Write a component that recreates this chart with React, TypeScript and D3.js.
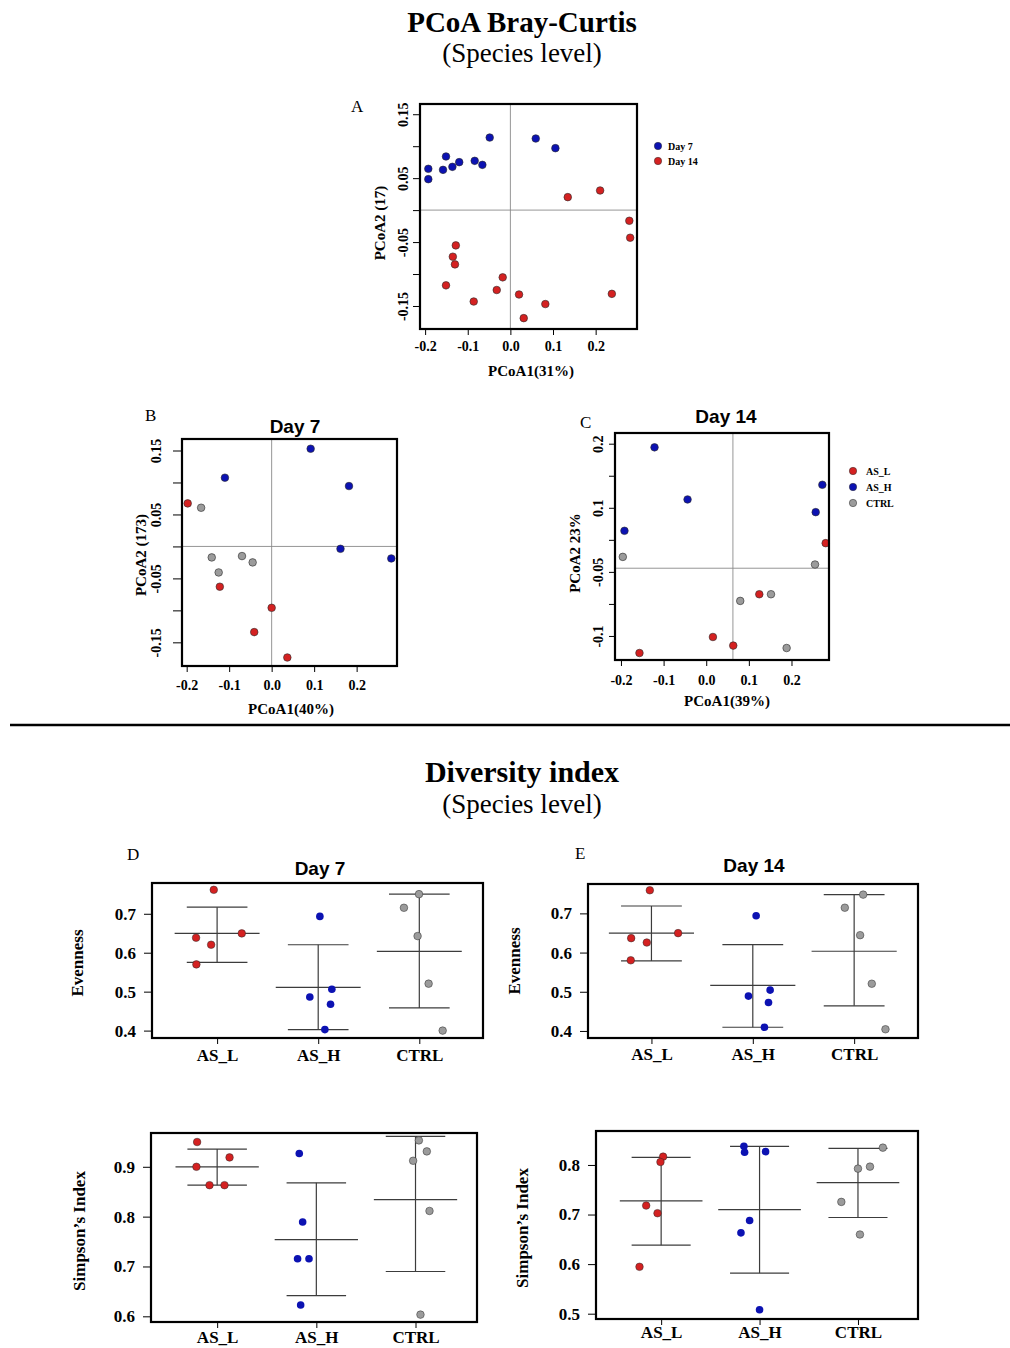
import React, { useRef, useEffect } from "react";
import * as d3 from "d3";

const RED = "#d42121";
const BLUE = "#0c12b2";
const GRAY = "#9b9b9b";
const SERIF = "'Liberation Serif', 'Times New Roman', serif";
const SANS = "'Liberation Sans', Arial, sans-serif";

// ---- PCoA A : all samples by day ----
const pcoaDay7: [number, number][] = [
  [-0.1925, 0.0646], [-0.1925, 0.0484], [-0.151, 0.0839], [-0.158, 0.063],
  [-0.136, 0.0677], [-0.12, 0.075], [-0.0837, 0.0771], [-0.0657, 0.0708],
  [-0.0485, 0.1135], [0.0595, 0.112], [0.1056, 0.0969],
];
const pcoaDay14: [number, number][] = [
  [0.1346, 0.0203], [0.2105, 0.0307], [0.279, -0.0167], [0.281, -0.0432],
  [-0.128, -0.0552], [-0.135, -0.0729], [-0.13, -0.0849], [-0.151, -0.1177],
  [-0.018, -0.1052], [-0.032, -0.125], [-0.086, -0.143], [0.0203, -0.132],
  [0.082, -0.147], [0.0313, -0.169], [0.238, -0.131],
];

// ---- PCoA B : day 7 by group ----
const day7ASL: [number, number][] = [[-0.1976, 0.0673], [-0.122, -0.063], [0.0, -0.096], [-0.041, -0.134], [0.0369, -0.1737]];
const day7ASH: [number, number][] = [[0.0918, 0.1528], [-0.11, 0.1075], [0.182, 0.0944], [0.162, -0.0037], [0.2816, -0.0188]];
const day7CTRL: [number, number][] = [[-0.166, 0.0605], [-0.141, -0.0172], [-0.0698, -0.0151], [-0.0447, -0.025], [-0.1247, -0.0407]];

// ---- PCoA C : day 14 by group ----
const day14ASL: [number, number][] = [[0.2802, -0.0052], [0.1245, -0.0849], [0.0157, -0.1516], [0.0634, -0.165], [-0.1566, -0.1766]];
const day14ASH: [number, number][] = [[-0.1213, 0.1443], [-0.0438, 0.063], [-0.1918, 0.0141], [0.2724, 0.0859], [0.2568, 0.0432]];
const day14CTRL: [number, number][] = [[-0.1957, -0.0266], [0.2552, -0.0385], [0.1519, -0.0849], [0.0798, -0.0953], [0.1886, -0.1688]];

const pcoaTicksX = [-0.2, -0.1, 0, 0.1, 0.2];
const pcoaLabelsX = ["-0.2", "-0.1", "0.0", "0.1", "0.2"];
const pcoaTicksY = [0.15, 0.1, 0.05, 0, -0.05, -0.1, -0.15];
const pcoaLabelsY = ["0.15", "", "0.05", "", "-0.05", "", "-0.15"];
const pcoaLabelsYC = ["0.2", "", "0.1", "", "-0.05", "", "-0.1"];

// ---- Diversity ----
const groups = ["AS_L", "AS_H", "CTRL"];

const evenD7 = [
  [0.7615, 0.6385, 0.6205, 0.6496, 0.57],
  [0.6932, 0.4863, 0.506, 0.4675, 0.4026],
  [0.7504, 0.7154, 0.6427, 0.5205, 0.4],
];
const evenD7Jitter = [
  [-0.033, -0.208, -0.059, 0.244, -0.205],
  [0.0165, -0.083, 0.135, 0.122, 0.066],
  [-0.003, -0.152, -0.017, 0.092, 0.231],
];
const evenD7Stats = [[0.6496, 0.717, 0.575], [0.5111, 0.6205, 0.4026], [0.6034, 0.7504, 0.4581]];

const evenD14 = [
  [0.759, 0.6368, 0.6256, 0.6496, 0.5803],
  [0.694, 0.4889, 0.5043, 0.4726, 0.4094],
  [0.7479, 0.7145, 0.6444, 0.5205, 0.4043],
];
const evenD14Jitter = [
  [-0.016, -0.2, -0.046, 0.263, -0.204],
  [0.033, -0.043, 0.171, 0.155, 0.115],
  [0.089, -0.092, 0.059, 0.174, 0.309],
];
const evenD14Stats = [[0.6496, 0.7188, 0.5786], [0.5162, 0.6205, 0.4094], [0.6034, 0.7479, 0.4641]];

const simpD7 = [
  [0.9497, 0.9, 0.9188, 0.8631, 0.8631],
  [0.9268, 0.7893, 0.7154, 0.7154, 0.6228],
  [0.953, 0.9309, 0.9121, 0.8114, 0.6034],
];
const simpD7Jitter = [
  [-0.202, -0.209, 0.125, -0.077, 0.074],
  [-0.172, -0.138, -0.189, -0.074, -0.158],
  [0.034, 0.114, -0.024, 0.141, 0.05],
];
const simpD7Stats = [[0.9, 0.9356, 0.8631], [0.7537, 0.8678, 0.6416], [0.8342, 0.9611, 0.6899]];

const simpD14 = [
  [0.8168, 0.806, 0.7181, 0.7027, 0.5946],
  [0.8376, 0.8255, 0.8268, 0.6879, 0.6631, 0.508],
  [0.8349, 0.7926, 0.7966, 0.7255, 0.6597],
];
const simpD14Jitter = [
  [0.02, -0.007, -0.152, -0.037, -0.22],
  [-0.159, -0.152, 0.061, -0.101, -0.189, 0],
  [0.253, 0, 0.122, -0.169, 0.02],
];
const simpD14Stats = [[0.7275, 0.8154, 0.6383], [0.7101, 0.8376, 0.5819], [0.7644, 0.8336, 0.694]];

const groupColors = [RED, BLUE, GRAY];

type Sel = d3.Selection<SVGGElement, unknown, null, undefined>;

function text(g: Sel, x: number, y: number, s: string, size: number, opts: any = {}) {
  const t = g
    .append("text")
    .attr("x", x)
    .attr("y", y)
    .attr("font-family", opts.family || SERIF)
    .attr("font-size", size)
    .attr("font-weight", opts.weight || "bold")
    .attr("text-anchor", opts.anchor || "middle")
    .attr("fill", "#000")
    .text(s);
  if (opts.rotate) t.attr("transform", `rotate(-90,${x},${y})`);
  return t;
}

function drawPcoa(root: Sel, p: any) {
  const [bx0, by0, bx1, by1] = p.box;
  const x = d3.scaleLinear().domain(p.xDom).range([bx0, bx1]);
  const y = d3.scaleLinear().domain(p.yDom).range([by1, by0]);
  const g = root.append("g");

  // reference lines
  g.append("line").attr("x1", x(p.ref[0])).attr("x2", x(p.ref[0])).attr("y1", by0).attr("y2", by1)
    .attr("stroke", "#8a8a8a").attr("stroke-width", 0.9);
  g.append("line").attr("x1", bx0).attr("x2", bx1).attr("y1", y(p.ref[1])).attr("y2", y(p.ref[1]))
    .attr("stroke", "#8a8a8a").attr("stroke-width", 0.9);

  p.series.forEach((s: any) => {
    g.append("g")
      .selectAll("circle")
      .data(s.pts)
      .join("circle")
      .attr("cx", (d: any) => x(d[0]))
      .attr("cy", (d: any) => y(d[1]))
      .attr("r", 3.8)
      .attr("fill", s.color)
      .attr("stroke", "#2a2a2a")
      .attr("stroke-width", 0.6);
  });

  g.append("rect").attr("x", bx0).attr("y", by0).attr("width", bx1 - bx0).attr("height", by1 - by0)
    .attr("fill", "none").attr("stroke", "#000").attr("stroke-width", 2.2);

  // x axis
  const xa = g.append("g").attr("transform", `translate(0,${by1})`)
    .call(d3.axisBottom(x).tickValues(pcoaTicksX).tickSize(6).tickFormat((_d, i) => pcoaLabelsX[i]));
  xa.select(".domain").remove();
  xa.selectAll("line").attr("stroke", "#000");
  xa.attr("font-family", SERIF).attr("font-size", 14).attr("font-weight", "bold");
  xa.selectAll("text").attr("y", p.xLabOff).attr("dy", null).attr("fill", "#000");

  // y axis (rotated labels)
  const ya = g.append("g").attr("transform", `translate(${bx0},0)`)
    .call(d3.axisLeft(y).tickValues(pcoaTicksY).tickSize(p.yTick).tickFormat((_d, i) => p.yLabels[i]));
  ya.select(".domain").remove();
  ya.selectAll("line").attr("stroke", "#000");
  ya.attr("font-family", SERIF).attr("font-size", 14).attr("font-weight", "bold");
  ya.selectAll("text")
    .attr("transform", "rotate(-90)")
    .attr("x", 0)
    .attr("y", -p.yLabOff)
    .attr("dy", null)
    .attr("text-anchor", "middle")
    .attr("fill", "#000");

  text(g, p.xTitle[1], p.xTitle[2], p.xTitle[0], 15);
  text(g, p.yTitle[1], p.yTitle[2], p.yTitle[0], 15, { rotate: true });
  if (p.title) text(g, p.title[1], p.title[2], p.title[0], 19, { family: SANS });
  text(g, p.letter[1], p.letter[2], p.letter[0], 17, { weight: "normal", anchor: "start" });
}

function drawDiversity(root: Sel, p: any) {
  const [bx0, by0, bx1, by1] = p.box;
  const x = d3.scaleLinear().domain(p.xDom).range([bx0, bx1]);
  const y = d3.scaleLinear().domain(p.yDom).range([by1, by0]);
  const g = root.append("g");
  const lc = "#3c3c3c";

  groups.forEach((_name, i) => {
    const c = i + 1;
    const [m, hi, lo] = p.stats[i];
    g.append("line").attr("x1", x(c)).attr("x2", x(c)).attr("y1", y(hi)).attr("y2", y(lo))
      .attr("stroke", lc).attr("stroke-width", 1.2);
    g.append("line").attr("x1", x(c - 0.42)).attr("x2", x(c + 0.42)).attr("y1", y(m)).attr("y2", y(m))
      .attr("stroke", lc).attr("stroke-width", 1.2);
    [hi, lo].forEach((v) =>
      g.append("line").attr("x1", x(c - 0.3)).attr("x2", x(c + 0.3)).attr("y1", y(v)).attr("y2", y(v))
        .attr("stroke", lc).attr("stroke-width", 1.2)
    );
    g.append("g")
      .selectAll("circle")
      .data(p.vals[i] as number[])
      .join("circle")
      .attr("cx", (_d, j) => x(c + p.jitter[i][j]))
      .attr("cy", (d) => y(d))
      .attr("r", 3.8)
      .attr("fill", groupColors[i])
      .attr("stroke", i === 1 ? "none" : "#2a2a2a")
      .attr("stroke-width", 0.5);
  });

  g.append("rect").attr("x", bx0).attr("y", by0).attr("width", bx1 - bx0).attr("height", by1 - by0)
    .attr("fill", "none").attr("stroke", "#000").attr("stroke-width", 2.2);

  const xa = g.append("g").attr("transform", `translate(0,${by1})`)
    .call(d3.axisBottom(x).tickValues([1, 2, 3]).tickSize(6).tickFormat((_d, i) => groups[i]));
  xa.select(".domain").remove();
  xa.selectAll("line").attr("stroke", "#000");
  xa.attr("font-family", SERIF).attr("font-size", 17).attr("font-weight", "bold");
  xa.selectAll("text").attr("y", p.xLabOff).attr("dy", null).attr("fill", "#000");

  const ya = g.append("g").attr("transform", `translate(${bx0},0)`)
    .call(d3.axisLeft(y).tickValues(p.yTicks).tickSize(8).tickPadding(8).tickFormat(d3.format(".1f")));
  ya.select(".domain").remove();
  ya.selectAll("line").attr("stroke", "#000");
  ya.attr("font-family", SERIF).attr("font-size", 17).attr("font-weight", "bold");
  ya.selectAll("text").attr("fill", "#000");

  text(g, p.yTitle[1], p.yTitle[2], p.yTitle[0], 17, { rotate: true });
  if (p.title) text(g, p.title[1], p.title[2], p.title[0], 19, { family: SANS });
  if (p.letter) text(g, p.letter[1], p.letter[2], p.letter[0], 17, { weight: "normal", anchor: "start" });
}

const App = () => {
  const ref = useRef<SVGSVGElement>(null);

  useEffect(() => {
    if (!ref.current) return;
    const svg = d3.select(ref.current);
    svg.selectAll("*").remove();
    const root = svg.append("g") as unknown as Sel;

    root.append("rect").attr("width", 1010).attr("height", 1348).attr("fill", "#fff");

    // headings
    text(root, 522, 32, "PCoA Bray-Curtis", 29);
    text(root, 522, 62, "(Species level)", 27, { weight: "normal" });
    text(root, 522, 782, "Diversity index", 30);
    text(root, 522, 813, "(Species level)", 27, { weight: "normal" });

    root.append("line").attr("x1", 10).attr("x2", 1010).attr("y1", 725).attr("y2", 725)
      .attr("stroke", "#000").attr("stroke-width", 2.5);

    drawPcoa(root, {
      box: [420, 104, 637, 329],
      xDom: [-0.212, 0.297],
      yDom: [-0.186, 0.166],
      ref: [0, 0],
      series: [{ pts: pcoaDay7, color: BLUE }, { pts: pcoaDay14, color: RED }],
      yLabels: pcoaLabelsY,
      yTick: 7,
      yLabOff: 12,
      xLabOff: 22,
      xTitle: ["PCoA1(31%)", 531, 376],
      yTitle: ["PCoA2 (17)", 385, 223],
      letter: ["A", 351, 112],
    });
    // legend A
    const legA = root.append("g");
    [["Day 7", BLUE], ["Day 14", RED]].forEach((d, i) => {
      legA.append("circle").attr("cx", 658).attr("cy", 146 + i * 15).attr("r", 3.7)
        .attr("fill", d[1]).attr("stroke", "#2a2a2a").attr("stroke-width", 0.5);
      text(legA, 668, 146 + i * 15 + 3.5, d[0], 10, { anchor: "start" });
    });

    drawPcoa(root, {
      box: [182, 439, 397, 666],
      xDom: [-0.211, 0.295],
      yDom: [-0.187, 0.168],
      ref: [0, 0],
      series: [{ pts: day7ASL, color: RED }, { pts: day7ASH, color: BLUE }, { pts: day7CTRL, color: GRAY }],
      yLabels: pcoaLabelsY,
      yTick: 9,
      yLabOff: 21,
      xLabOff: 24,
      xTitle: ["PCoA1(40%)", 291, 714],
      yTitle: ["PCoA2 (173)", 146, 555],
      title: ["Day 7", 295, 433],
      letter: ["B", 145, 421],
    });

    drawPcoa(root, {
      box: [615, 433, 829, 660],
      xDom: [-0.214, 0.288],
      yDom: [-0.1875, 0.1667],
      ref: [0.0626, -0.0443],
      series: [{ pts: day14ASL, color: RED }, { pts: day14ASH, color: BLUE }, { pts: day14CTRL, color: GRAY }],
      yLabels: pcoaLabelsYC,
      yTick: 6,
      yLabOff: 12,
      xLabOff: 25,
      xTitle: ["PCoA1(39%)", 727, 706],
      yTitle: ["PCoA2 23%", 580, 553],
      title: ["Day 14", 726, 423],
      letter: ["C", 580, 428],
    });
    // legend C
    const legC = root.append("g");
    groups.forEach((name, i) => {
      legC.append("circle").attr("cx", 853).attr("cy", 471 + i * 16).attr("r", 3.7)
        .attr("fill", groupColors[i]).attr("stroke", "#2a2a2a").attr("stroke-width", 0.5);
      text(legC, 866, 471 + i * 16 + 3.5, name, 10, { anchor: "start" });
    });

    drawDiversity(root, {
      box: [152, 883, 483, 1038],
      xDom: [0.356, 3.63],
      yDom: [0.381, 0.779],
      yTicks: [0.4, 0.5, 0.6, 0.7],
      vals: evenD7, jitter: evenD7Jitter, stats: evenD7Stats,
      xLabOff: 23,
      yTitle: ["Evenness", 83, 963],
      title: ["Day 7", 320, 875],
      letter: ["D", 127, 860],
    });
    drawDiversity(root, {
      box: [588, 884, 918, 1038],
      xDom: [0.374, 3.63],
      yDom: [0.382, 0.775],
      yTicks: [0.4, 0.5, 0.6, 0.7],
      vals: evenD14, jitter: evenD14Jitter, stats: evenD14Stats,
      xLabOff: 22,
      yTitle: ["Evenness", 520, 961],
      title: ["Day 14", 754, 872],
      letter: ["E", 575, 859],
    });
    drawDiversity(root, {
      box: [151, 1133, 477, 1322],
      xDom: [0.333, 3.62],
      yDom: [0.5886, 0.9678],
      yTicks: [0.6, 0.7, 0.8, 0.9],
      vals: simpD7, jitter: simpD7Jitter, stats: simpD7Stats,
      xLabOff: 21,
      yTitle: ["Simpson’s Index", 85, 1231],
    });
    drawDiversity(root, {
      box: [596, 1131, 918, 1319],
      xDom: [0.338, 3.61],
      yDom: [0.4893, 0.8685],
      yTicks: [0.5, 0.6, 0.7, 0.8],
      vals: simpD14, jitter: simpD14Jitter, stats: simpD14Stats,
      xLabOff: 19,
      yTitle: ["Simpson’s Index", 528, 1228],
    });
  }, []);

  return (
    <svg
      ref={ref}
      width={1010}
      height={1348}
      style={{ position: "absolute", left: 0, top: 0, display: "block" }}
    />
  );
};

export default App;
